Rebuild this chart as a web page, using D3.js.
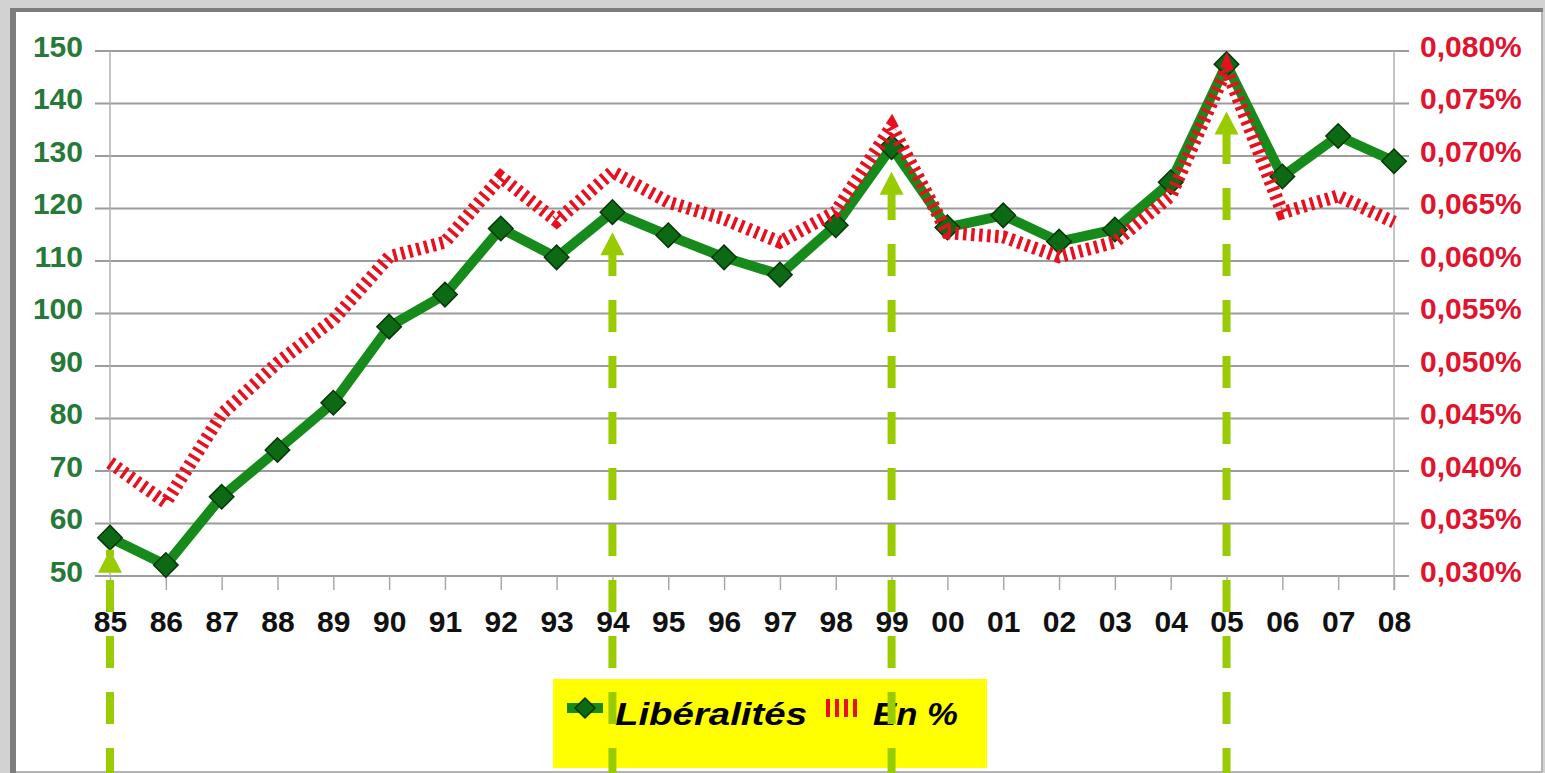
<!DOCTYPE html>
<html>
<head>
<meta charset="utf-8">
<script src="https://cdn.jsdelivr.net/npm/d3@7"></script>
<style>
  html, body { margin: 0; padding: 0; background: #d2d2d2; }
  svg { display: block; }
  text { font-family: "Liberation Sans", Arial, sans-serif; font-weight: bold; }
</style>
</head>
<body>
<script>
'use strict';

// years on the x axis
const years = ["85","86","87","88","89","90","91","92","93","94","95","96",
               "97","98","99","00","01","02","03","04","05","06","07","08"];

// Libéralités (left axis)
const liberalites = [57.3, 52.1, 65.1, 74.0, 83.0, 97.5, 103.6, 116.2, 110.7, 119.3, 114.9, 110.7,
                     107.4, 116.8, 131.7, 116.4, 118.7, 113.7, 116.0, 125.0, 147.5, 126.1, 133.8, 129.0];

// En % (right axis, in percent)
const enPourcent = [0.0408, 0.0370, 0.0454, 0.0503, 0.0544, 0.0604, 0.0618, 0.0680, 0.0638, 0.0685, 0.0656, 0.0640,
                    0.0618, 0.0647, 0.0728, 0.0627, 0.0623, 0.0604, 0.0618, 0.0662, 0.0783, 0.0646, 0.0662, 0.0637];

const leftTicks = [50, 60, 70, 80, 90, 100, 110, 120, 130, 140, 150];
const rightTicks = [0.030, 0.035, 0.040, 0.045, 0.050, 0.055, 0.060, 0.065, 0.070, 0.075, 0.080];

// annotation arrows: year and arrow tip (left axis units)
const arrowYears = ["85", "94", "99", "05"];
const arrowTips = [55, 115.5, 127, 138.5];

const legendLabels = ["Libéralités", "En %"];

const W = 1545, H = 773;

const svg = d3.select('body').append('svg')
  .attr('width', W)
  .attr('height', H);

// window-like frame
svg.append('rect').attr('x', 10).attr('y', 8).attr('width', 1533).attr('height', 765).attr('fill', '#7c7c7c');
svg.append('rect').attr('x', 16).attr('y', 12).attr('width', 1527).attr('height', 761).attr('fill', '#b4b4b4');
svg.append('rect').attr('x', 16).attr('y', 12).attr('width', 1525).attr('height', 759).attr('fill', '#ffffff');

const x = d3.scalePoint().domain(years).range([110, 1394]);
const yL = d3.scaleLinear().domain([50, 150]).range([576, 51]);
const yR = d3.scaleLinear().domain([0.030, 0.080]).range([576, 51]);

// horizontal grid lines
svg.append('g').selectAll('line')
  .data(leftTicks)
  .enter()
  .append('line')
    .attr('x1', 95)
    .attr('x2', 1409)
    .attr('y1', d => yL(d))
    .attr('y2', d => yL(d))
    .attr('stroke', '#9c9c9c')
    .attr('stroke-width', 2);

// vertical axis lines
svg.append('line').attr('x1', 110).attr('x2', 110).attr('y1', 51).attr('y2', 576)
  .attr('stroke', '#b0b0b0').attr('stroke-width', 1.5);
svg.append('line').attr('x1', 1394).attr('x2', 1394).attr('y1', 51).attr('y2', 590)
  .attr('stroke', '#b0b0b0').attr('stroke-width', 1.5);

// left axis
const leftAxis = svg.append('g')
  .attr('transform', 'translate(110,0)')
  .call(d3.axisLeft(yL).tickValues(leftTicks).tickSize(0).tickPadding(27));
leftAxis.select('.domain').remove();
leftAxis.selectAll('text')
  .attr('dy', '0.18em')
  .style('font-size', '30px')
  .style('fill', '#27793a');

// right axis
const fmt = d => d3.format('.3f')(d).replace('.', ',') + '%';
const rightAxis = svg.append('g')
  .attr('transform', 'translate(1394,0)')
  .call(d3.axisRight(yR).tickValues(rightTicks).tickSize(0).tickPadding(26).tickFormat(fmt));
rightAxis.select('.domain').remove();
rightAxis.selectAll('text')
  .attr('dy', '0.18em')
  .style('font-size', '30px')
  .style('fill', '#e0142f');

// bottom axis
const bottomAxis = svg.append('g')
  .attr('transform', 'translate(0,576)')
  .call(d3.axisBottom(x).tickSize(14).tickPadding(21));
bottomAxis.select('.domain').remove();
bottomAxis.selectAll('line')
  .attr('stroke', '#a8a8a8')
  .attr('stroke-width', 1.5);
bottomAxis.selectAll('text')
  .style('font-size', '30px')
  .style('fill', '#111111');

// legend box
svg.append('rect')
  .attr('x', 553).attr('y', 679)
  .attr('width', 434).attr('height', 89)
  .attr('fill', '#ffff00');

svg.append('line')
  .attr('x1', 567).attr('x2', 603).attr('y1', 708).attr('y2', 708)
  .attr('stroke', '#178a1c').attr('stroke-width', 10);
svg.append('path')
  .attr('d', d3.symbol().type(d3.symbolSquare).size(200)())
  .attr('transform', 'translate(585,708) rotate(45)')
  .attr('fill', '#0c6a14')
  .attr('stroke', '#073508')
  .attr('stroke-width', 1.5);
svg.append('line')
  .attr('x1', 826).attr('x2', 859).attr('y1', 708).attr('y2', 708)
  .attr('stroke', '#e8101e').attr('stroke-width', 18)
  .attr('stroke-dasharray', '4,5');

svg.append('text')
  .attr('x', 615).attr('y', 725)
  .attr('textLength', 192)
  .attr('lengthAdjust', 'spacingAndGlyphs')
  .style('font-size', '31px')
  .style('font-style', 'italic')
  .style('fill', '#000')
  .text(legendLabels[0]);
svg.append('text')
  .attr('x', 873).attr('y', 725)
  .attr('textLength', 85)
  .attr('lengthAdjust', 'spacingAndGlyphs')
  .style('font-size', '31px')
  .style('font-style', 'italic')
  .style('fill', '#000')
  .text(legendLabels[1]);

// Libéralités line and markers
const greenLine = d3.line()
  .x((d, i) => x(years[i]))
  .y(d => yL(d));

svg.append('path')
  .datum(liberalites)
  .attr('d', greenLine)
  .attr('fill', 'none')
  .attr('stroke', '#178a1c')
  .attr('stroke-width', 10)
  .attr('stroke-linejoin', 'round');

svg.append('g').selectAll('path')
  .data(liberalites)
  .enter()
  .append('path')
    .attr('d', d3.symbol().type(d3.symbolSquare).size(300)())
    .attr('transform', (d, i) => 'translate(' + x(years[i]) + ',' + yL(d) + ') rotate(45)')
    .attr('fill', '#0c6a14')
    .attr('stroke', '#073508')
    .attr('stroke-width', 1.5);

// En % line (striped)
const redLine = d3.line()
  .x((d, i) => x(years[i]))
  .y(d => yR(d));

svg.append('path')
  .datum(enPourcent)
  .attr('d', redLine)
  .attr('fill', 'none')
  .attr('stroke', '#e8101e')
  .attr('stroke-width', 13)
  .attr('stroke-dasharray', '3.5,4.5');

// annotation arrows
arrowYears.forEach(function(yr, i) {
  let ax = x(yr);
  let tip = yL(arrowTips[i]);
  let off = ((tip - 20) % 56 + 56) % 56;
  svg.append('line')
    .attr('x1', ax).attr('x2', ax)
    .attr('y1', tip).attr('y2', H)
    .attr('stroke', '#99cc00')
    .attr('stroke-width', 8)
    .attr('stroke-dasharray', '32,24')
    .attr('stroke-dashoffset', off);
  svg.append('path')
    .attr('d', 'M' + ax + ',' + tip + 'L' + (ax - 12) + ',' + (tip + 23) + 'L' + (ax + 12) + ',' + (tip + 23) + 'Z')
    .attr('fill', '#99cc00');
});
</script>
</body>
</html>
